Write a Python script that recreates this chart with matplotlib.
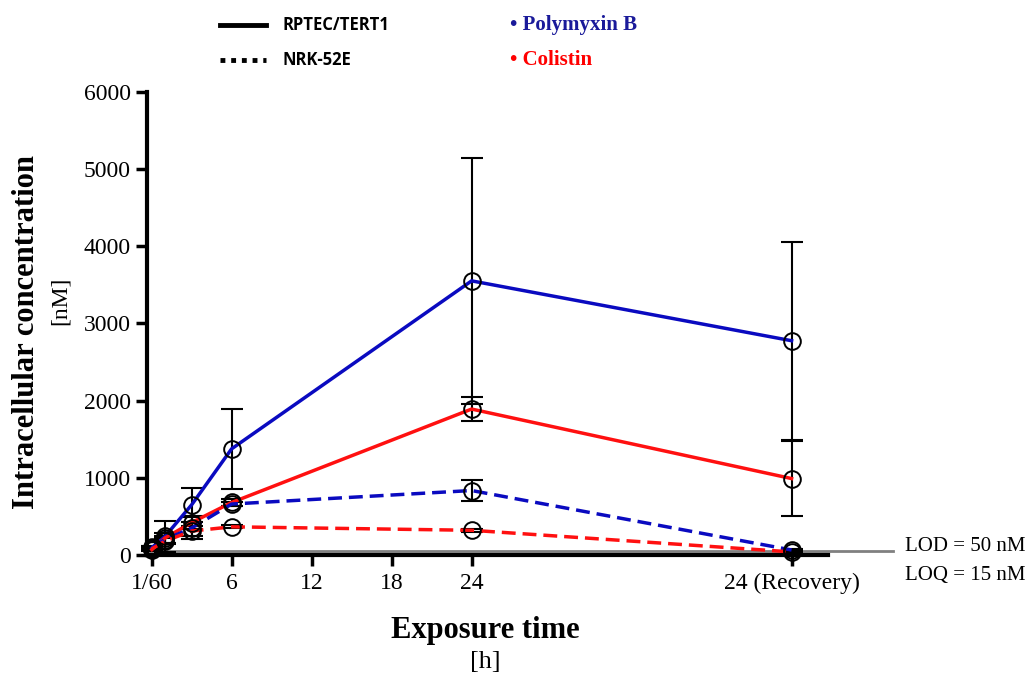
import numpy as np
import matplotlib
matplotlib.use("Agg")
import matplotlib.pyplot as plt
from matplotlib.lines import Line2D

# time points (h); "24 (Recovery)" is placed at 48
times = [1 / 60, 1, 3, 6, 24, 48]

pmb_rptec = [90, 240, 650, 1375, 3550, 2775]
pmb_rptec_sd = [30, 200, 220, 515, 1590, 1280]
col_rptec = [70, 220, 420, 680, 1890, 990]
col_rptec_sd = [20, 60, 80, 40, 155, 490]
pmb_nrk = [100, 200, 350, 660, 835, 65]
pmb_nrk_sd = [20, 50, 140, 30, 130, 10]
col_nrk = [80, 180, 310, 365, 320, 40]
col_nrk_sd = [15, 40, 60, 20, 20, 10]

xtick_pos = [1 / 60, 6, 12, 18, 24, 48]
xtick_lab = ["1/60", "6", "12", "18", "24", "24 (Recovery)"]
yticks = [0, 1000, 2000, 3000, 4000, 5000, 6000]
lod = 50

BLUE = "#0a0ac0"
RED = "#ff1010"
serif = "Liberation Serif"

fig = plt.figure(figsize=(10.27, 6.77), dpi=100)
ax = fig.add_axes([0.1428, 0.1802, 0.663, 0.6844])

series = [
    (pmb_rptec, pmb_rptec_sd, BLUE, "-"),
    (col_rptec, col_rptec_sd, RED, "-"),
    (pmb_nrk, pmb_nrk_sd, BLUE, (0, (4, 2))),
    (col_nrk, col_nrk_sd, RED, (0, (4, 2))),
]
for y, sd, c, ls in series:
    ax.errorbar(times, y, yerr=sd, fmt="none", ecolor="black", elinewidth=1.5,
                capsize=8, capthick=1.5, zorder=3, clip_on=False)
    ax.plot(times, y, color=c, ls=ls, lw=2.5, zorder=4, clip_on=False)
    ax.plot(times, y, ls="none", marker="o", ms=12, mfc="none", mec="black",
            mew=1.4, zorder=5, clip_on=False)

# LOD line extends past the axes
ax.plot([-0.375, 55.6], [lod, lod], color="#808080", lw=2, zorder=2, clip_on=False)

ax.set_xlim(-0.375, 50.7)
ax.set_ylim(0, 6000)
ax.set_xticks(xtick_pos)
ax.set_xticklabels(xtick_lab, family=serif, fontsize=17)
ax.set_yticks(yticks)
ax.set_yticklabels([str(v) for v in yticks], family=serif, fontsize=17)
ax.tick_params(axis="both", direction="out", length=8, width=2.5, color="black")
ax.tick_params(axis="x", pad=5)
for s in ["top", "right"]:
    ax.spines[s].set_visible(False)
for s in ["left", "bottom"]:
    ax.spines[s].set_linewidth(3)

fig.text(0.026, 0.51, "Intracellular concentration", rotation=90, ha="center",
         va="center", family=serif, fontsize=22, fontweight="bold")
fig.text(0.059, 0.555, "[nM]", rotation=90, ha="center", va="center",
         family=serif, fontsize=17)
fig.text(0.473, 0.068, "Exposure time", ha="center", va="center",
         family=serif, fontsize=22, fontweight="bold")
fig.text(0.473, 0.022, "[h]", ha="center", va="center", family=serif, fontsize=19)

fig.text(0.940, 0.193, "LOD = 50 nM", ha="center", va="center", family=serif, fontsize=15)
fig.text(0.940, 0.150, "LOQ = 15 nM", ha="center", va="center", family=serif, fontsize=15)

# custom legend at top
fig.add_artist(Line2D([0.214, 0.259], [0.963, 0.963], color="black", lw=3.5))
fig.add_artist(Line2D([0.214, 0.259], [0.911, 0.911], color="black", lw=3.5,
                      ls=(0, (1, 1.2))))
fig.text(0.275, 0.963, "RPTEC/TERT1", ha="left", va="center", family="Open Sans",
         fontsize=12, fontweight="bold")
fig.text(0.275, 0.911, "NRK-52E", ha="left", va="center", family="Open Sans",
         fontsize=12, fontweight="bold")
fig.text(0.497, 0.963, "\u2022 Polymyxin B", ha="left", va="center", family=serif,
         fontsize=15, fontweight="bold", color="#1a1a9a")
fig.text(0.497, 0.911, "\u2022 Colistin", ha="left", va="center", family=serif,
         fontsize=15, fontweight="bold", color="#ff0000")

fig.savefig("out.png", dpi=100)
